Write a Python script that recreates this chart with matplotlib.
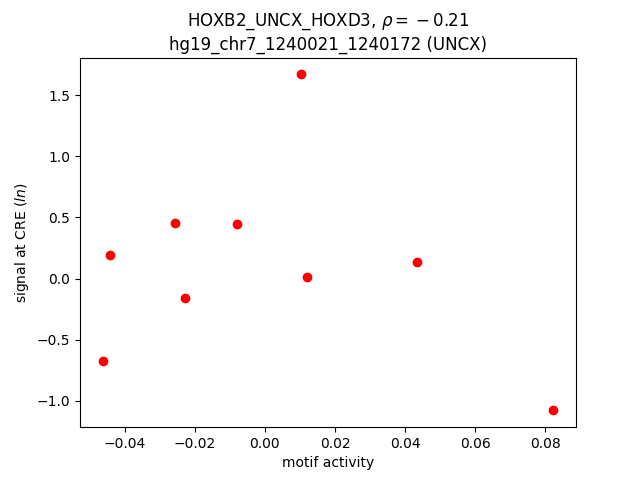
import numpy as np
import matplotlib
matplotlib.use('Agg')
import matplotlib.pyplot as plt

# motif activity vs signal at CRE
motif_activity = [0.0103, -0.0257, -0.0080, -0.0443, 0.0120, -0.0229, -0.0463, 0.0434, 0.0823]
cre_signal = [1.672, 0.451, 0.443, 0.189, 0.016, -0.161, -0.672, 0.139, -1.080]

title_motif = 'HOXB2_UNCX_HOXD3'
rho = -0.21
region = 'hg19_chr7_1240021_1240172 (UNCX)'


def main():
    fig = plt.figure(figsize=(6.4, 4.8), dpi=100)
    plt.scatter(motif_activity, cre_signal, c='red')
    # empty group before the number so the minus gets binary spacing
    plt.title(title_motif + r', $\rho = {}' + '%.2f' % rho + '$\n' + region)
    plt.xlabel('motif activity')
    plt.ylabel(r'signal at CRE ($ln$)')
    plt.savefig('out.png')


if __name__ == '__main__':
    main()
